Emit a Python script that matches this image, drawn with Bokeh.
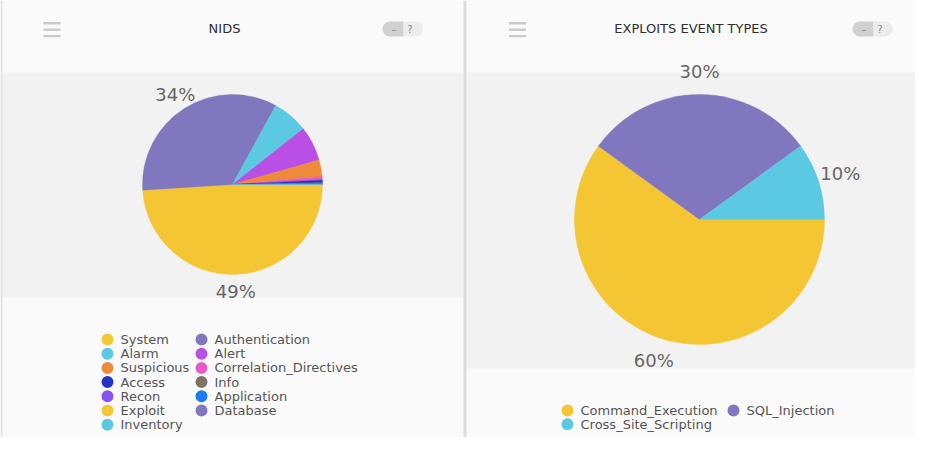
import numpy as np
from bokeh.plotting import figure
from bokeh.models import Range1d, ColumnDataSource
from bokeh.core.properties import value
from bokeh.embed import file_html
from bokeh.resources import INLINE

# ---------------- data ----------------
nids_title = "NIDS"
nids_categories = ["System", "Authentication", "Alarm", "Alert", "Suspicious",
                   "Correlation_Directives", "Access", "Info", "Recon",
                   "Application", "Exploit", "Database", "Inventory"]
nids_values = [4900, 3400, 640, 620, 300, 60, 50, 20, 5, 3, 1, 1, 1]
nids_colors = ["#f4c634", "#8177bf", "#5bc9e2", "#b94fe5", "#ee8a38",
               "#e85bc6", "#2534c7", "#7e7465", "#8a50f0", "#1a7cf5",
               "#f4c634", "#8177bf", "#5bc9e2"]

exploit_title = "EXPLOITS EVENT TYPES"
exploit_categories = ["Command_Execution", "SQL_Injection", "Cross_Site_Scripting"]
exploit_values = [60, 30, 10]
exploit_colors = ["#f4c634", "#8177bf", "#5bc9e2"]

FONT = value("DejaVu Sans")
W, H = 931, 453
PW, PH = W - 16, H - 16


def Y(yref):
    return H - yref


p = figure(width=PW, height=PH, output_backend="svg", toolbar_location=None,
           x_range=Range1d(0, PW), y_range=Range1d(H - PH, H),
           x_axis_location=None, y_axis_location=None, min_border=0,
           background_fill_color="#fafafa", border_fill_color="#fafafa")
p.grid.visible = False
p.outline_line_color = None

# ---------------- panel backgrounds ----------------
p.quad(left=[0, 466], right=[463, W], top=[Y(72), Y(72)], bottom=[Y(297), Y(368)],
       fill_color="#f2f2f2", line_color=None)
p.quad(left=[463], right=[466], top=[H], bottom=[0], fill_color="#dcdcdc", line_color=None)
p.quad(left=[0], right=[2], top=[H], bottom=[0], fill_color="#e2e2e2", line_color=None)


# ---------------- headers ----------------
def header(title, tx, hx, px):
    p.text(x=[tx], y=[Y(27.5)], text=[title], text_font=FONT, text_font_size="13px",
           text_color="#2e2e2e", text_align="center", text_baseline="middle")
    for yy in (22.8, 29.3, 35.6):
        p.quad(left=[hx], right=[hx + 17], top=[Y(yy - 1.2)], bottom=[Y(yy + 1.2)],
               fill_color="#cacaca", line_color=None)
    cy = Y(28.5)
    p.circle(x=[px + 7.5], y=[cy], radius=7.5, fill_color="#d0d0d0", line_color=None)
    p.circle(x=[px + 33], y=[cy], radius=7.5, fill_color="#ececec", line_color=None)
    p.quad(left=[px + 7.5], right=[px + 21], top=[cy + 7.5], bottom=[cy - 7.5],
           fill_color="#d0d0d0", line_color=None)
    p.quad(left=[px + 21], right=[px + 33], top=[cy + 7.5], bottom=[cy - 7.5],
           fill_color="#ececec", line_color=None)
    p.text(x=[px + 11.5, px + 27.5], y=[cy, cy], text=["–", "?"], text_font=FONT,
           text_font_size="10px", text_color="#8a8a8a", text_align="center",
           text_baseline="middle")


header(nids_title, 224, 43, 382)
header(exploit_title, 690.5, 508.5, 852)


# ---------------- pies ----------------
def pie(cx, cy, r, cats, vals, cols):
    v = np.array(vals, dtype=float)
    frac = v / v.sum()
    cum = np.concatenate([[0.0], np.cumsum(frac)])
    src = ColumnDataSource(dict(
        cat=cats, color=cols,
        start=-2 * np.pi * cum[1:], end=-2 * np.pi * cum[:-1]))
    p.wedge(x=cx, y=Y(cy), radius=r, start_angle="start", end_angle="end",
            fill_color="color", line_color="color", line_width=0.4, source=src)
    pct = np.round(frac * 100).astype(int)
    mid = -np.pi * (cum[:-1] + cum[1:])
    keep = pct >= 10
    d = 1.185 * r
    p.text(x=list(cx + d * np.cos(mid[keep])), y=list(Y(cy) + d * np.sin(mid[keep])),
           text=[f"{q}%" for q in pct[keep]], text_font=FONT, text_font_size="18px",
           text_color="#666666", text_align="center", text_baseline="middle")


pie(232, 184, 90, nids_categories, nids_values, nids_colors)
pie(699, 219, 125, exploit_categories, exploit_values, exploit_colors)


# ---------------- legends ----------------
def legend(cats, cols, col_x, y0, dy):
    n = len(cats)
    xs = [col_x[i % 2] for i in range(n)]
    ys = [Y(y0 + dy * (i // 2)) for i in range(n)]
    p.scatter(x=xs, y=ys, size=12, marker="circle", fill_color=cols, line_color=None)
    p.text(x=[x + 13 for x in xs], y=ys, text=cats, text_font=FONT, text_font_size="13px",
           text_color="#555555", text_align="left", text_baseline="middle")


legend(nids_categories, nids_colors, [107, 201], 339, 14.2)
legend(exploit_categories, exploit_colors, [567, 733], 410, 13.8)

open("out.html", "w").write(file_html(p, INLINE))
